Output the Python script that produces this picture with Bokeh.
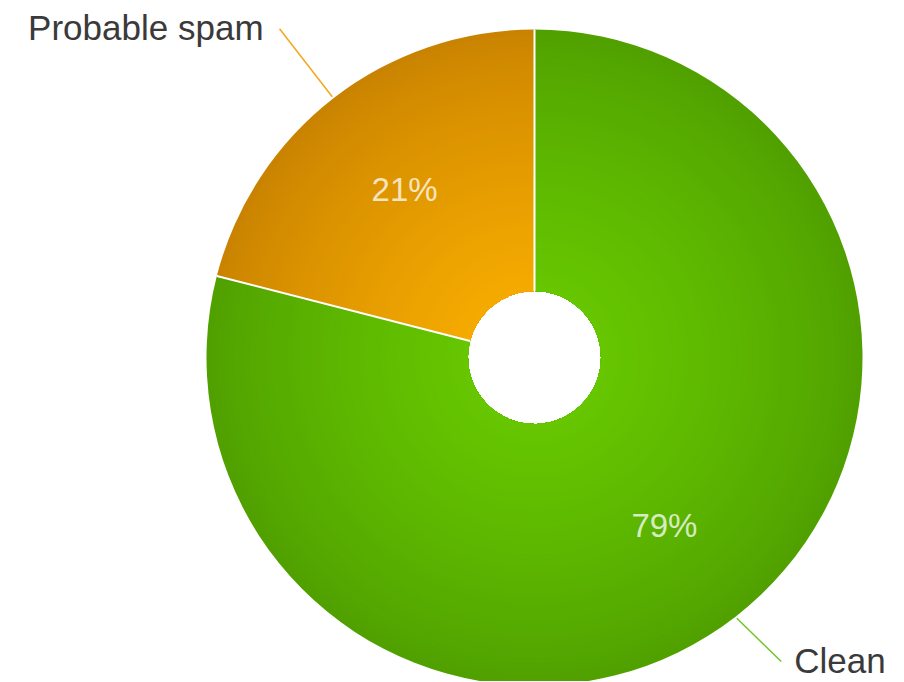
import numpy as np
from bokeh.plotting import figure
from bokeh.models import Range1d
from bokeh.core.properties import value
from bokeh.embed import file_html
from bokeh.resources import INLINE

# ---- data ----
categories = ["Clean", "Probable spam"]
shares = [79, 21]
pct_labels = ["79%", "21%"]
inner_colors = ["#66c600", "#f5aa00"]
outer_colors = ["#50a000", "#c98300"]

# ---- layout (pixels) ----
R_OUT = 328
R_IN = 66.5
R_LABEL = 212
R_LEAD0 = 330
LEAD_LEN = [62, 86]
LEAD_BEND = [8, 0]          # degrees toward horizontal
LABEL_GAP = [13, 16]
LABEL_DY = 1

p = figure(width=900, height=681, output_backend="svg", toolbar_location=None,
           x_range=Range1d(-534, 366), y_range=Range1d(-324, 357),
           min_border=0, outline_line_color=None)
p.axis.visible = False
p.grid.visible = False
p.background_fill_color = "white"
p.border_fill_color = "white"

total = float(sum(shares))
start = np.pi / 2
starts, ends = [], []
for s in shares:
    sweep = 2 * np.pi * s / total
    starts.append(start)
    ends.append(start - sweep)
    start -= sweep


def mix(c1, c2, t):
    a = [int(c1[i:i + 2], 16) for i in (1, 3, 5)]
    b = [int(c2[i:i + 2], 16) for i in (1, 3, 5)]
    return "#%02x%02x%02x" % tuple(int(round(a[k] + (b[k] - a[k]) * t)) for k in range(3))


# radial shading: nested wedges from outer (dark) to inner (light)
n_steps = 48
for i, cat in enumerate(categories):
    for k in range(n_steps):
        t = k / (n_steps - 1)  # 0 outer -> 1 inner
        r = R_OUT - (R_OUT - R_IN) * t * 0.98
        col = mix(outer_colors[i], inner_colors[i], t ** 0.8)
        p.annular_wedge(x=0, y=0, inner_radius=R_IN, outer_radius=r,
                        start_angle=ends[i], end_angle=starts[i],
                        fill_color=col, line_color=None)

# white separators at slice boundaries
bounds = [starts[0]] + ends[:-1]
p.segment(x0=[R_IN * np.cos(a) for a in bounds], y0=[R_IN * np.sin(a) for a in bounds],
          x1=[R_OUT * np.cos(a) for a in bounds], y1=[R_OUT * np.sin(a) for a in bounds],
          line_color="white", line_width=2)

mids = [(a + b) / 2 for a, b in zip(starts, ends)]

# percentage labels
p.text(x=[R_LABEL * np.cos(m) for m in mids], y=[R_LABEL * np.sin(m) for m in mids],
       text=pct_labels, text_align="center", text_baseline="middle",
       text_font=value("Liberation Sans"), text_font_size="33px",
       text_color="white", text_alpha=0.75)

# leader lines and category labels
lead_colors = ["#6cc62a", "#f2a71b"]
for i, cat in enumerate(categories):
    m = mids[i]
    x0, y0 = R_LEAD0 * np.cos(m), R_LEAD0 * np.sin(m)
    right = np.cos(m) >= 0
    bend = np.radians(LEAD_BEND[i])
    d = m + (bend if (right and np.sin(m) < 0) else -bend if right else 0)
    x1, y1 = x0 + LEAD_LEN[i] * np.cos(d), y0 + LEAD_LEN[i] * np.sin(d)
    p.line(x=[x0, x1], y=[y0, y1], line_color=lead_colors[i], line_width=1.5)
    tx = x1 + (LABEL_GAP[i] if right else -LABEL_GAP[i])
    ty = y1 + LABEL_DY
    p.text(x=[tx], y=[ty], text=[cat],
           text_align="left" if right else "right", text_baseline="alphabetic",
           text_font=value("Liberation Sans"), text_font_size="35px",
           text_color="#3a3a3a")

open("out.html", "w").write(file_html(p, INLINE))
